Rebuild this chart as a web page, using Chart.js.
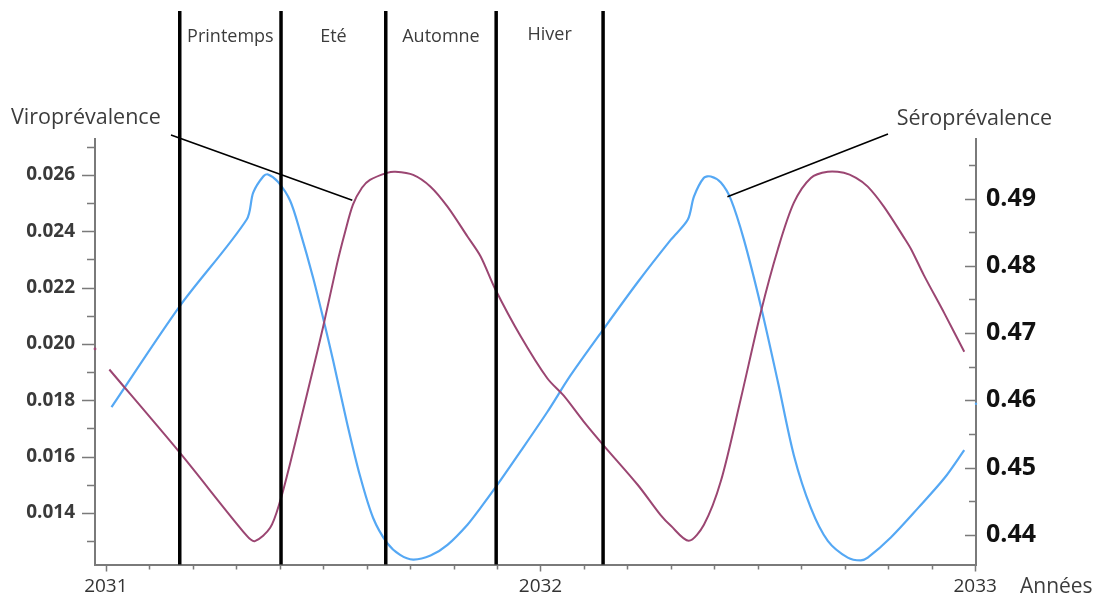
<!DOCTYPE html>
<html lang="fr">
<head>
<meta charset="utf-8">
<title>Viroprévalence et séroprévalence</title>
<script src="https://cdn.jsdelivr.net/npm/chart.js@4.4.1/dist/chart.umd.min.js"></script>
<style>
  html, body { margin: 0; padding: 0; background: #ffffff; }
  #wrap { width: 1097px; height: 596px; }
</style>
</head>
<body>
<div id="wrap"><canvas id="c" width="1097" height="596"></canvas></div>
<script>
// Viroprévalence (axe de gauche)
const viroYears = [
  2031.008, 2031.171, 2031.324, 2031.343, 2031.378, 2031.401, 2031.4235, 2031.4465,
  2031.4764, 2031.4994, 2031.5316, 2031.5501, 2031.5685, 2031.5892, 2031.6076, 2031.647,
  2031.666, 2031.707, 2031.747, 2031.786, 2031.832, 2031.862, 2031.896, 2031.954,
  2032.016, 2032.053, 2032.099, 2032.145, 2032.224, 2032.276, 2032.300, 2032.341,
  2032.376, 2032.415, 2032.461, 2032.507, 2032.546, 2032.583, 2032.622, 2032.661,
  2032.698, 2032.726, 2032.753, 2032.790, 2032.836, 2032.853, 2032.882, 2032.929,
  2032.975
];
const viroValues = [
  0.01909, 0.01612, 0.01319, 0.01300, 0.01347, 0.01442, 0.01573, 0.01718,
  0.01908, 0.02057, 0.02282, 0.02395, 0.02494, 0.02554, 0.02582, 0.02607,
  0.02611, 0.02600, 0.02558, 0.02487, 0.02381, 0.02311, 0.02194, 0.02028,
  0.01877, 0.01817, 0.01725, 0.01640, 0.01499, 0.01393, 0.01354, 0.01301,
  0.01358, 0.01513, 0.01806, 0.02113, 0.02335, 0.02501, 0.02589, 0.02611,
  0.02607, 0.02589, 0.02558, 0.02487, 0.02378, 0.02335, 0.02244, 0.02109,
  0.01972
];

// Séroprévalence (axe de droite)
const seroYears = [
  2031.013, 2031.171, 2031.324, 2031.339, 2031.362, 2031.373, 2031.396, 2031.424,
  2031.447, 2031.477, 2031.500, 2031.523, 2031.555, 2031.585, 2031.615, 2031.647,
  2031.677, 2031.707, 2031.747, 2031.786, 2031.832, 2031.862, 2031.896, 2031.954,
  2032.016, 2032.069, 2032.145, 2032.224, 2032.300, 2032.339, 2032.353, 2032.376,
  2032.392, 2032.415, 2032.438, 2032.468, 2032.507, 2032.546, 2032.583, 2032.622,
  2032.661, 2032.707, 2032.737, 2032.753, 2032.806, 2032.869, 2032.929, 2032.975
];
const seroValues = [
  0.4590, 0.4741, 0.4869, 0.4909, 0.4933, 0.4936, 0.4925, 0.4897,
  0.4851, 0.4782, 0.4722, 0.4659, 0.4566, 0.4487, 0.4425, 0.4388,
  0.4370, 0.4363, 0.4369, 0.4385, 0.4415, 0.4440, 0.4470, 0.4524,
  0.4583, 0.4637, 0.4706, 0.4776, 0.4839, 0.4869, 0.4903, 0.4931,
  0.4933, 0.4924, 0.4899, 0.4839, 0.4740, 0.4628, 0.4518, 0.4440,
  0.4391, 0.4366, 0.4362, 0.4366, 0.4396, 0.4440, 0.4484, 0.4526
];

// Points isolés en bord d'axe
const viroEdgeYears = [2030.975];
const viroEdgeValues = [0.01982];
const seroEdgeYears = [2033.002];
const seroEdgeValues = [0.4595];

// Graduations
const yearTicks = [2031, 2032, 2033];
const viroTicks = [0.014, 0.016, 0.018, 0.020, 0.022, 0.024, 0.026];
const seroTicks = [0.44, 0.45, 0.46, 0.47, 0.48, 0.49];

// Saisons : bornes (en années) et noms
const seasonBounds = [2031.170, 2031.403, 2031.644, 2031.898, 2032.144];
const seasonNames = ['Printemps', 'Eté', 'Automne', 'Hiver'];

const FONT = '"Open Sans", Lato, "DejaVu Sans", sans-serif';
const BLUE = '#55a8f4';
const MAROON = '#9b4672';
const AXIS = '#7a7a7a';
const TEXT = '#3c3c3c';

const pairs = (xs, ys) => xs.map((x, i) => ({ x: x, y: ys[i] }));

function range(from, to, step) {
  const out = [];
  const n = Math.round((to - from) / step);
  for (let i = 0; i <= n; i++) out.push(+(from + i * step).toFixed(6));
  return out;
}

// Graduations secondaires, traits de saison, étiquettes et renvois
const decorations = {
  id: 'decorations',
  afterDatasetsDraw(chart) {
    const ctx = chart.ctx;
    const xs = chart.scales.x, yl = chart.scales.yViro, yr = chart.scales.ySero;
    const area = chart.chartArea;
    ctx.save();

    // tick marks
    ctx.strokeStyle = AXIS;
    ctx.lineWidth = 1.5;
    ctx.beginPath();
    range(2031, 2033, 0.1).forEach(v => {
      const px = Math.round(xs.getPixelForValue(v)) + 0.5;
      const major = Math.abs(v - Math.round(v)) < 1e-6;
      ctx.moveTo(px, area.bottom);
      ctx.lineTo(px, area.bottom + (major ? 7 : 5));
    });
    range(0.013, 0.027, 0.001).forEach(v => {
      const py = Math.round(yl.getPixelForValue(v)) + 0.5;
      const major = viroTicks.some(t => Math.abs(t - v) < 1e-7);
      ctx.moveTo(area.left, py);
      ctx.lineTo(area.left - (major ? 13 : 8), py);
    });
    range(0.44, 0.495, 0.005).forEach(v => {
      const py = Math.round(yr.getPixelForValue(v)) + 0.5;
      const major = seroTicks.some(t => Math.abs(t - v) < 1e-7);
      ctx.moveTo(area.right, py);
      ctx.lineTo(area.right - (major ? 11 : 7), py);
    });
    ctx.stroke();

    // season boundaries
    ctx.strokeStyle = '#000000';
    ctx.lineWidth = 3.5;
    seasonBounds.forEach(v => {
      const px = xs.getPixelForValue(v);
      ctx.beginPath();
      ctx.moveTo(px, 11);
      ctx.lineTo(px, area.bottom);
      ctx.stroke();
    });

    // season names
    ctx.fillStyle = TEXT;
    ctx.font = '18px ' + FONT;
    ctx.textAlign = 'center';
    ctx.textBaseline = 'middle';
    seasonNames.forEach((name, i) => {
      const mid = (xs.getPixelForValue(seasonBounds[i]) + xs.getPixelForValue(seasonBounds[i + 1])) / 2;
      ctx.fillText(name, mid, 37 - (i === 3 ? 2 : 0));
    });

    // series labels with leader lines
    ctx.font = '21.5px ' + FONT;
    ctx.textAlign = 'left';
    ctx.fillText('Viroprévalence', 11, 118);
    ctx.textAlign = 'right';
    ctx.fillText('Séroprévalence', 1052, 119);

    ctx.strokeStyle = '#000000';
    ctx.lineWidth = 1.6;
    ctx.beginPath();
    ctx.moveTo(171, 135);
    ctx.lineTo(xs.getPixelForValue(2031.567), yl.getPixelForValue(0.02510));
    ctx.moveTo(888, 134);
    ctx.lineTo(xs.getPixelForValue(2032.430), yr.getPixelForValue(0.4903));
    ctx.stroke();

    // axis title
    ctx.font = '21px ' + FONT;
    ctx.textAlign = 'left';
    ctx.fillText('Années', 1020, 587);

    ctx.restore();
  }
};

new Chart(document.getElementById('c'), {
  type: 'line',
  data: {
    datasets: [
      {
        label: 'Viroprévalence',
        data: pairs(viroYears, viroValues),
        yAxisID: 'yViro',
        borderColor: MAROON,
        borderWidth: 2,
        pointRadius: 0,
        tension: 0.3,
        fill: false
      },
      {
        label: 'Séroprévalence',
        data: pairs(seroYears, seroValues),
        yAxisID: 'ySero',
        borderColor: BLUE,
        borderWidth: 2.2,
        pointRadius: 0,
        tension: 0.3,
        fill: false
      },
      {
        label: 'Viroprévalence (bord)',
        data: pairs(viroEdgeYears, viroEdgeValues),
        yAxisID: 'yViro',
        showLine: false,
        pointRadius: 1.4,
        pointBorderWidth: 0,
        pointBackgroundColor: MAROON,
        clip: false
      },
      {
        label: 'Séroprévalence (bord)',
        data: pairs(seroEdgeYears, seroEdgeValues),
        yAxisID: 'ySero',
        showLine: false,
        pointRadius: 1.2,
        pointBorderWidth: 0,
        pointBackgroundColor: BLUE,
        clip: false
      }
    ]
  },
  options: {
    responsive: false,
    devicePixelRatio: 1,
    animation: false,
    layout: { padding: { top: 139, left: 0, right: 0, bottom: 0 } },
    plugins: { legend: { display: false }, tooltip: { enabled: false } },
    scales: {
      x: {
        type: 'linear',
        min: 2030.975,
        max: 2033.002,
        afterFit(s) { s.height = 29; },
        afterBuildTicks(s) { s.ticks = yearTicks.map(v => ({ value: v })); },
        grid: { display: false, drawTicks: false },
        border: { display: true, color: AXIS, width: 2 },
        ticks: {
          padding: 11,
          color: '#333333',
          font: { family: FONT, size: 19 },
          maxRotation: 0,
          autoSkip: false,
          callback: v => String(v)
        }
      },
      yViro: {
        type: 'linear',
        position: 'left',
        min: 0.012165,
        max: 0.027271,
        afterFit(s) { s.width = 95; },
        afterBuildTicks(s) { s.ticks = viroTicks.map(v => ({ value: v })); },
        grid: { display: false, drawTicks: false },
        border: { display: true, color: AXIS, width: 2 },
        ticks: {
          padding: 20,
          color: '#3a3a3a',
          font: { family: FONT, size: 19, weight: 'bold' },
          autoSkip: false,
          callback: v => v.toFixed(3)
        }
      },
      ySero: {
        type: 'linear',
        position: 'right',
        min: 0.435562,
        max: 0.498876,
        afterFit(s) { s.width = 121; },
        afterBuildTicks(s) { s.ticks = seroTicks.map(v => ({ value: v })); },
        grid: { display: false, drawTicks: false },
        border: { display: true, color: AXIS, width: 2 },
        ticks: {
          padding: 10,
          color: '#111111',
          font: { family: FONT, size: 25, weight: 'bold' },
          autoSkip: false,
          callback: v => v.toFixed(2)
        }
      }
    }
  },
  plugins: [decorations]
});
</script>
</body>
</html>
